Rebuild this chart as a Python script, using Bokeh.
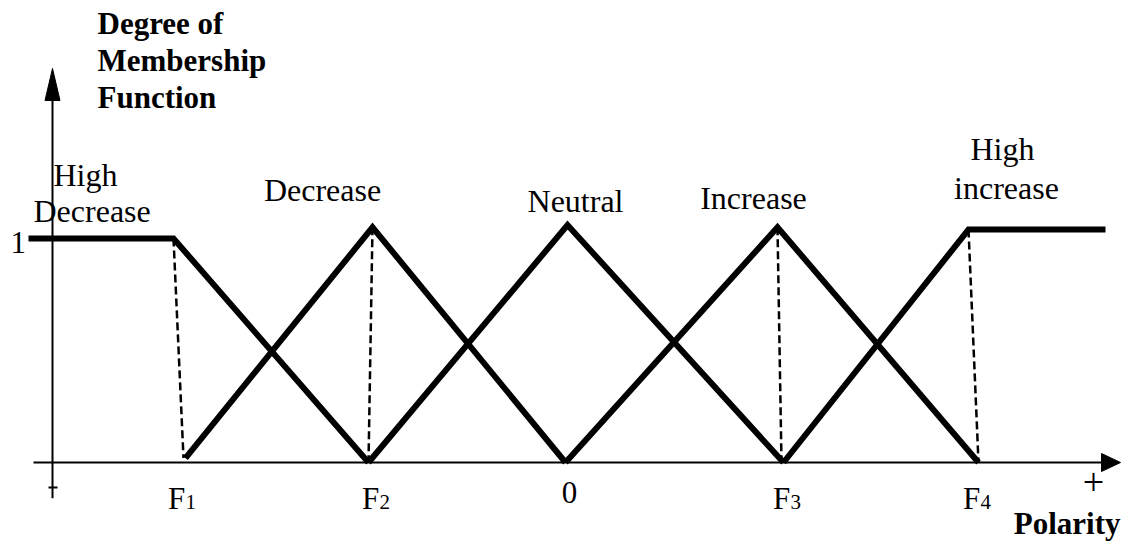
from bokeh.plotting import figure
from bokeh.models import Range1d
from bokeh.core.properties import value
from bokeh.embed import file_html
from bokeh.resources import INLINE

# ---- data (polarity units on x, degree of membership on y) ----
series_names = ["High Decrease", "Decrease", "Neutral", "Increase", "High increase"]
hd_x = [-5.38, -3.93, -1.98]
hd_m = [1.0, 1.0, 0.0]
dec_x = [-3.81, -1.94, -0.01]
dec_m = [0.02, 1.05, 0.0]
neu_x = [-1.98, 0.01, 2.17]
neu_m = [0.0, 1.06, 0.0]
inc_x = [-0.01, 2.11, 4.12]
inc_m = [0.0, 1.05, 0.0]
hi_x = [2.17, 4.02, 5.39]
hi_m = [0.0, 1.04, 1.04]

guide_top_x = [-3.93, -1.94, 2.11, 4.02]
guide_top_m = [1.0, 1.05, 1.05, 1.04]
guide_bot_x = [-3.83, -1.98, 2.15, 4.12]
guide_bot_m = [0.02, 0.0, 0.0, 0.0]

tick_names = ["F", "F", "0", "F", "F"]
tick_subs = ["1", "2", "", "3", "4"]
tick_x = [-3.85, -1.91, 0.03, 2.20, 4.10]

label_text = ["High", "Decrease", "Decrease", "Neutral", "Increase", "High", "increase"]
label_x = [-5.13, -5.33, -2.44, 0.09, 1.87, 4.36, 4.40]
label_m = [1.237, 1.080, 1.170, 1.121, 1.134, 1.357, 1.183]
label_align = ["left", "left", "center", "center", "center", "center", "center"]

title_lines = ["Degree of", "Membership", "Function"]
x_axis_name = "Polarity"

# axis geometry (data units)
x_axis_start, x_axis_end = -5.33, 5.37
y_axis_x = -5.14
y_axis_bottom, y_axis_top = -0.16, 1.625

PX_X = 100.0   # px per polarity unit
PX_Y = 224.0   # px per membership unit
BASE_FIX = 10 / PX_Y   # alphabetic-baseline correction

FONT = value("Liberation Serif")

p = figure(width=1132, height=546, output_backend="svg", toolbar_location=None,
           x_range=Range1d(-5.66, 5.66), y_range=Range1d(-0.375, 2.0625),
           x_axis_type=None, y_axis_type=None, min_border=0)
p.grid.visible = False
p.outline_line_color = None
p.background_fill_color = "white"
p.border_fill_color = "white"

# axes
p.line([x_axis_start, x_axis_end], [0, 0], line_color="black", line_width=2)
p.line([y_axis_x, y_axis_x], [y_axis_bottom, y_axis_top], line_color="black", line_width=2)
# arrow heads
p.patch([x_axis_end - 2 / PX_X, x_axis_end + 17 / PX_X, x_axis_end - 2 / PX_X],
        [9 / PX_Y, 0, -9 / PX_Y], color="black")
p.patch([y_axis_x - 7.5 / PX_X, y_axis_x, y_axis_x + 7.5 / PX_X],
        [y_axis_top - 2 / PX_Y, y_axis_top + 30 / PX_Y, y_axis_top - 2 / PX_Y], color="black")
# small tick on the negative end
p.line([y_axis_x - 4 / PX_X, y_axis_x + 5 / PX_X], [-0.112, -0.112], line_color="black", line_width=2)

# dashed guides
for xt, mt, xb, mb in zip(guide_top_x, guide_top_m, guide_bot_x, guide_bot_m):
    p.line([xt, xb], [mt, mb], line_color="black", line_width=2.5, line_dash="8 4")

# membership functions
for xs, ms in [(hd_x, hd_m), (dec_x, dec_m), (neu_x, neu_m), (inc_x, inc_m), (hi_x, hi_m)]:
    p.line(xs, ms, line_color="black", line_width=6, line_join="miter", line_cap="butt")

# term labels
for t, x, m, a in zip(label_text, label_x, label_m, label_align):
    p.text([x], [m + BASE_FIX], text=[t], text_font=FONT, text_font_size="32px",
           text_align=a, text_baseline="alphabetic", text_color="black")

# "1" tick label
p.text([-5.56], [0.9375 + BASE_FIX], text=["1"], text_font=FONT, text_font_size="31px",
       text_align="left", text_baseline="alphabetic", text_color="black")

# x tick labels with subscripts
for name, sub, x in zip(tick_names, tick_subs, tick_x):
    if sub:
        left = x - 13.5 / PX_X
        p.text([left], [-0.205 + BASE_FIX], text=[name], text_font=FONT, text_font_size="31px",
               text_align="left", text_baseline="alphabetic", text_color="black")
        p.text([left + 17.5 / PX_X], [-0.223 + BASE_FIX], text=[sub], text_font=FONT,
               text_font_size="21px", text_align="left", text_baseline="alphabetic",
               text_color="black")
    else:
        p.text([x], [-0.179 + BASE_FIX], text=[name], text_font=FONT, text_font_size="31px",
               text_align="center", text_baseline="alphabetic", text_color="black")

# "+" at positive end
p.text([5.27], [-0.089], text=["+"], text_font=FONT, text_font_size="38px",
       text_align="center", text_baseline="middle", text_color="black")

# axis names (bold)
for i, line in enumerate(title_lines):
    p.text([-4.69], [1.915 - i * 0.165 + BASE_FIX], text=[line], text_font=FONT,
           text_font_size="31px", text_font_style="bold", text_align="left",
           text_baseline="alphabetic", text_color="black")
p.text([5.54], [-0.317 + BASE_FIX], text=[x_axis_name], text_font=FONT, text_font_size="31px",
       text_font_style="bold", text_align="right", text_baseline="alphabetic", text_color="black")

open("out.html", "w").write(file_html(p, INLINE))
